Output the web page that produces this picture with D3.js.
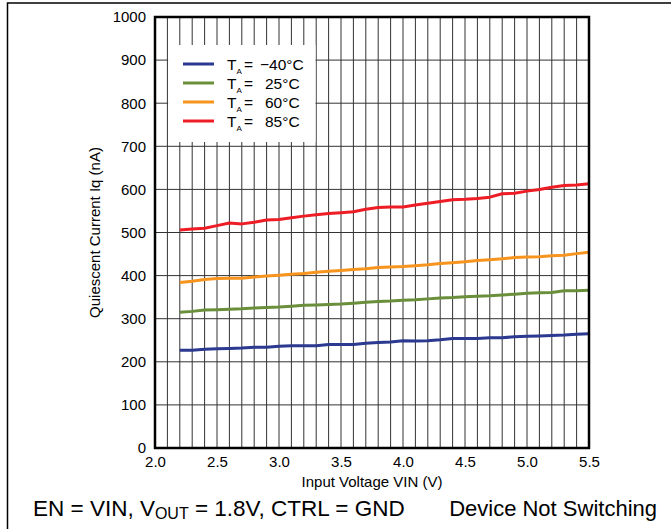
<!DOCTYPE html>
<html><head><meta charset="utf-8">
<script src="https://cdn.jsdelivr.net/npm/d3@7"></script>
<style>
body{margin:0;background:#fff}
svg{display:block}
text{font-family:"Liberation Sans",Arial,Helvetica,sans-serif;fill:#000}
</style>
</head><body>
<svg id="c" width="671" height="529"></svg>
<script>
// ---- data ----
const vin = [2.2,2.3,2.4,2.5,2.6,2.7,2.8,2.9,3.0,3.1,3.2,3.3,3.4,3.5,3.6,3.7,3.8,3.9,4.0,4.1,4.2,4.3,4.4,4.5,4.6,4.7,4.8,4.9,5.0,5.1,5.2,5.3,5.4,5.5];
const iqM40 = [227,227,229,230,231,232,234,234,236,237,237,237,240,240,240,243,245,246,249,248,249,251,254,254,254,256,256,258,259,260,261,262,264,265];
const iq25  = [315,317,320,321,322,323,325,326,327,329,331,332,333,334,336,338,340,341,343,344,346,348,349,351,352,353,355,357,359,360,361,365,365,366];
const iq60  = [384,387,391,393,394,394,397,399,401,403,405,408,410,412,414,416,419,420,421,423,425,428,430,432,435,437,439,442,443,444,446,447,451,454];
const iq85  = [506,508,510,516,522,520,524,529,530,534,538,541,544,546,548,554,558,559,559,564,568,572,576,577,579,582,590,591,596,600,605,609,610,613];
const seriesNames = ["\u221240\u00B0C","25\u00B0C","60\u00B0C","85\u00B0C"];
const xTicks = [2.0,2.5,3.0,3.5,4.0,4.5,5.0,5.5];
const xTickLabels = ["2.0","2.5","3.0","3.5","4.0","4.5","5.0","5.5"];
const yTicks = [0,100,200,300,400,500,600,700,800,900,1000];
const xGrid = [2.1,2.2,2.3,2.4,2.5,2.6,2.7,2.8,2.9,3.0,3.1,3.2,3.3,3.4,3.5,3.6,3.7,3.8,3.9,4.0,4.1,4.2,4.3,4.4,4.5,4.6,4.7,4.8,4.9,5.0,5.1,5.2,5.3,5.4];
const yGrid = [100,200,300,400,500,600,700,800,900];

// ---- layout / style ----
const colors = ["#2B3990","#6A8F3A","#F7941D","#EE1C25"];
const series = [iqM40, iq25, iq60, iq85];
const L = 155, R = 589, T = 17, B = 448;

const svg = d3.select("#c");
const x = d3.scaleLinear().domain([2.0,5.5]).range([L,R]);
const y = d3.scaleLinear().domain([0,1000]).range([B,T]);

// outer frame
svg.append("rect").attr("x",7.5).attr("y",3).attr("width",700).attr("height",600)
  .attr("fill","none").attr("stroke","#000").attr("stroke-width",1.5);

// grid
const g = svg.append("g");
g.selectAll("line.v").data(xGrid).join("line").attr("class","v")
  .attr("x1",d=>x(d)).attr("x2",d=>x(d)).attr("y1",T).attr("y2",B)
  .attr("stroke","#333").attr("stroke-width",1);
g.selectAll("line.h").data(yGrid).join("line").attr("class","h")
  .attr("x1",L).attr("x2",R).attr("y1",d=>y(d)).attr("y2",d=>y(d))
  .attr("stroke","#333").attr("stroke-width",1);

// legend background
const lgX0 = x(2.1)+0.7, lgX1 = x(3.3)-0.7;
svg.append("rect").attr("x",lgX0).attr("y",45).attr("width",lgX1-lgX0).attr("height",97)
  .attr("fill","#fff");

// lines
const line = d3.line().x((d,i)=>x(vin[i])).y(d=>y(d));
series.forEach((s,k)=>{
  svg.append("path").datum(s).attr("d",line).attr("fill","none")
    .attr("stroke",colors[k]).attr("stroke-width",3).attr("stroke-linejoin","round");
});

// plot frame
svg.append("rect").attr("x",L).attr("y",T).attr("width",R-L).attr("height",B-T)
  .attr("fill","none").attr("stroke","#000").attr("stroke-width",2.5);

// axes
const ya = svg.append("g").attr("transform",`translate(${L},0)`)
  .call(d3.axisLeft(y).tickValues(yTicks).tickSize(0).tickPadding(9).tickFormat(d3.format("d")));
ya.select(".domain").remove();
ya.selectAll("text").attr("font-size",15).attr("font-family",null);

const xa = svg.append("g").attr("transform",`translate(0,${B})`)
  .call(d3.axisBottom(x).tickValues(xTicks).tickSize(0).tickPadding(8).tickFormat((d,i)=>xTickLabels[i]));
xa.select(".domain").remove();
xa.selectAll("text").attr("font-size",15).attr("font-family",null);

// axis titles
svg.append("text").attr("x",(L+R)/2).attr("y",487).attr("text-anchor","middle")
  .attr("font-size",15).text("Input Voltage VIN (V)");
svg.append("text").attr("transform",`translate(100,${(T+B)/2}) rotate(-90)`)
  .attr("text-anchor","middle").attr("font-size",15).text("Quiescent Current Iq (nA)");

// legend
const lgY = [64,83,102,121];
const valX = [260,265,265,265];
series.forEach((s,k)=>{
  svg.append("line").attr("x1",183).attr("x2",214).attr("y1",lgY[k]).attr("y2",lgY[k])
    .attr("stroke",colors[k]).attr("stroke-width",3);
  const t = svg.append("text").attr("y",lgY[k]+5.5).attr("font-size",15.5);
  t.append("tspan").attr("x",227).text("T");
  t.append("tspan").attr("x",236.5).attr("dy",4).attr("font-size",8).text("A");
  t.append("tspan").attr("x",244).attr("dy",-4).text("=");
  t.append("tspan").attr("x",valX[k]).text(seriesNames[k]);
});

// bottom note
const nt = svg.append("text").attr("x",33).attr("y",516).attr("font-size",22.5);
nt.append("tspan").text("EN = VIN, V");
nt.append("tspan").attr("dy",3).attr("font-size",16).text("OUT");
nt.append("tspan").attr("dy",-3).text(" = 1.8V, CTRL = GND");
svg.append("text").attr("x",657).attr("y",516).attr("text-anchor","end").attr("font-size",22)
  .text("Device Not Switching");
</script>
</body></html>
